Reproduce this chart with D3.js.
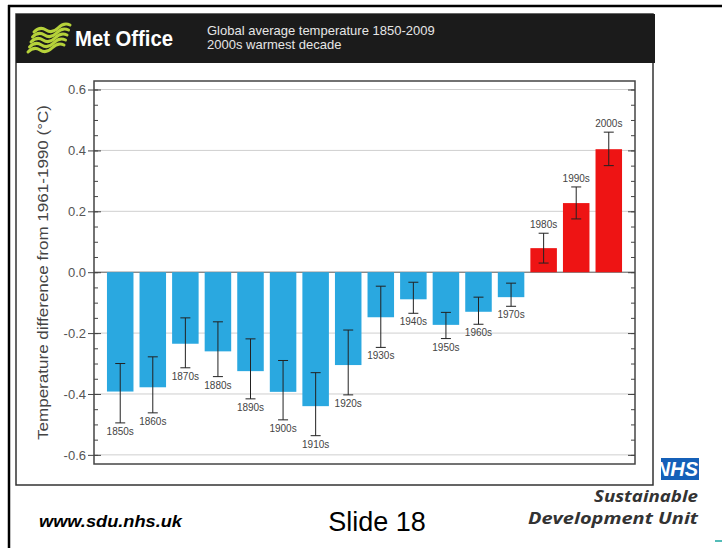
<!DOCTYPE html>
<html><head><meta charset="utf-8">
<script src="https://cdn.jsdelivr.net/npm/d3@7"></script>
<style>body{margin:0;background:#fff}svg{display:block}</style>
</head><body><svg id="c" width="722" height="548"></svg>
<script>
const decades = ["1850s","1860s","1870s","1880s","1890s","1900s","1910s","1920s","1930s","1940s","1950s","1960s","1970s","1980s","1990s","2000s"];
const anomalies = [-0.392,-0.378,-0.235,-0.260,-0.325,-0.393,-0.440,-0.305,-0.148,-0.089,-0.173,-0.130,-0.082,0.079,0.227,0.404];
const errUpper = [-0.300,-0.278,-0.150,-0.163,-0.219,-0.290,-0.330,-0.190,-0.046,-0.033,-0.132,-0.082,-0.036,0.128,0.280,0.460];
const errLower = [-0.495,-0.462,-0.314,-0.343,-0.416,-0.485,-0.537,-0.403,-0.247,-0.135,-0.218,-0.171,-0.112,0.030,0.175,0.350];
const yTicks = [-0.6,-0.4,-0.2,0.0,0.2,0.4,0.6];
const yTickLabels = ["-0.6","-0.4","-0.2","0.0","0.2","0.4","0.6"];
const yMinorTicks = [-0.6,-0.55,-0.5,-0.45,-0.4,-0.35,-0.3,-0.25,-0.2,-0.15,-0.1,-0.05,0,0.05,0.1,0.15,0.2,0.25,0.3,0.35,0.4,0.45,0.5,0.55,0.6];
const titleLines = ["Global average temperature 1850-2009","2000s warmest decade"];
const yAxisTitle = "Temperature difference from 1961-1990 (°C)";

const svg = d3.select("#c");
const P = {l:94, r:635, t:81, b:464};
const font = "Liberation Sans, Arial, sans-serif";

// slide frame
svg.append("line").attr("x1",8).attr("x2",722).attr("y1",6).attr("y2",6).attr("stroke","#000").attr("stroke-width",2.5);
svg.append("line").attr("x1",9).attr("x2",9).attr("y1",5).attr("y2",548).attr("stroke","#000").attr("stroke-width",2.5);

// chart panel
svg.append("rect").attr("x",16).attr("y",14).attr("width",637).attr("height",471)
  .attr("fill","#fff").attr("stroke","#333").attr("stroke-width",1.5);
svg.append("rect").attr("x",16).attr("y",14).attr("width",639).attr("height",49).attr("fill","#1b1b1b");

// Met Office logo
const logo = svg.append("g").attr("fill","none").attr("stroke","#b6d23a").attr("stroke-width",3).attr("stroke-linecap","round");
for (let i=0;i<5;i++){
  const x0 = 34 - i*1.5, y0 = 29 + i*5;
  logo.append("path").attr("d",`M${x0},${y0+3} q6,-6 12,-2 t12,-2 t12,-3`);
}
svg.append("text").attr("x",75).attr("y",46).attr("fill","#fff").attr("font-family",font)
  .attr("font-weight","bold").attr("font-size",22).attr("textLength",98).attr("lengthAdjust","spacingAndGlyphs").text("Met Office");
svg.selectAll("text.title").data(titleLines).join("text").attr("class","title")
  .attr("x",207).attr("y",(d,i)=>35+i*14).attr("fill","#e6e6e6")
  .attr("font-family",font).attr("font-size",13).text(d=>d);

// scales
const x = d3.scaleBand().domain(decades).range([P.l,P.r]).paddingInner(0.186).paddingOuter(0.398);
const y = d3.scaleLinear().domain([-0.63,0.628]).range([P.b,P.t]);

// gridlines
svg.append("g").selectAll("line").data(yTicks.filter(d=>d!==0)).join("line")
  .attr("x1",P.l).attr("x2",P.r).attr("y1",d=>y(d)).attr("y2",d=>y(d))
  .attr("stroke","#cfcfcf").attr("stroke-width",1);
svg.append("line").attr("x1",P.l).attr("x2",P.r).attr("y1",y(0)).attr("y2",y(0)).attr("stroke","#555").attr("stroke-width",1);

// bars
const idx = d3.range(decades.length);
svg.append("g").selectAll("rect").data(idx).join("rect")
  .attr("x",i=>x(decades[i])).attr("width",x.bandwidth())
  .attr("y",i=>y(Math.max(0,anomalies[i]))).attr("height",i=>Math.abs(y(anomalies[i])-y(0)))
  .attr("fill",i=>anomalies[i]<0?"#2aa8e0":"#ee1414");

// error bars
const eb = svg.append("g").attr("stroke","#222").attr("stroke-width",1);
idx.forEach(i=>{
  const cx = x(decades[i])+x.bandwidth()/2;
  eb.append("line").attr("x1",cx).attr("x2",cx).attr("y1",y(errUpper[i])).attr("y2",y(errLower[i]));
  [errUpper[i],errLower[i]].forEach(v=>{
    eb.append("line").attr("x1",cx-5).attr("x2",cx+5).attr("y1",y(v)).attr("y2",y(v));
  });
});

// decade labels
svg.append("g").selectAll("text").data(idx).join("text")
  .attr("x",i=>x(decades[i])+x.bandwidth()/2)
  .attr("y",i=>anomalies[i]<0? y(errLower[i])+12 : y(errUpper[i])-5)
  .attr("text-anchor","middle").attr("font-family",font)
  .attr("font-size",10).attr("fill","#444").text(i=>decades[i]);

// axes
const axL = svg.append("g").attr("transform",`translate(${P.l},0)`)
  .call(d3.axisLeft(y).tickValues(yTicks).tickFormat((d,i)=>yTickLabels[i]).tickSize(6).tickPadding(2));
axL.select(".domain").remove();
axL.selectAll("text").attr("font-family",font).attr("font-size",13).attr("fill","#555");
axL.selectAll("line").attr("stroke","#444");
const axLi = svg.append("g").attr("transform",`translate(${P.l},0)`)
  .call(d3.axisLeft(y).tickValues(yMinorTicks).tickFormat("").tickSize(-4));
axLi.select(".domain").remove(); axLi.selectAll("line").attr("stroke","#444");
const axLm = svg.append("g").attr("transform",`translate(${P.l},0)`)
  .call(d3.axisLeft(y).tickValues(yTicks).tickFormat("").tickSize(-7));
axLm.select(".domain").remove(); axLm.selectAll("line").attr("stroke","#444");
const axR = svg.append("g").attr("transform",`translate(${P.r},0)`)
  .call(d3.axisRight(y).tickValues(yMinorTicks).tickFormat("").tickSize(-4));
axR.select(".domain").remove(); axR.selectAll("line").attr("stroke","#444");
const axRm = svg.append("g").attr("transform",`translate(${P.r},0)`)
  .call(d3.axisRight(y).tickValues(yTicks).tickFormat("").tickSize(-7));
axRm.select(".domain").remove(); axRm.selectAll("line").attr("stroke","#444");

// plot frame
svg.append("rect").attr("x",P.l).attr("y",P.t).attr("width",P.r-P.l).attr("height",P.b-P.t)
  .attr("fill","none").attr("stroke","#444").attr("stroke-width",1.5);

// y title
svg.append("text").attr("transform",`translate(48,${(P.t+P.b)/2}) rotate(-90)`)
  .attr("text-anchor","middle").attr("font-family",font).attr("font-size",15)
  .attr("textLength",335).attr("lengthAdjust","spacingAndGlyphs").attr("fill","#444").text(yAxisTitle);

// footer
svg.append("text").attr("x",39).attr("y",527).attr("font-family",font).attr("font-weight","bold").attr("font-style","italic")
  .attr("font-size",17).attr("textLength",143).attr("lengthAdjust","spacingAndGlyphs").attr("fill","#000").text("www.sdu.nhs.uk");
svg.append("text").attr("x",377).attr("y",531).attr("text-anchor","middle").attr("font-family",font)
  .attr("font-size",27).attr("fill","#000").text("Slide 18");

// NHS logo
svg.append("defs").append("clipPath").attr("id","nhsclip").append("rect").attr("x",661).attr("y",458).attr("width",38).attr("height",22);
svg.append("rect").attr("x",661).attr("y",458).attr("width",38).attr("height",22).attr("fill","#1560b8");
svg.append("text").attr("clip-path","url(#nhsclip)").attr("x",698).attr("y",476).attr("text-anchor","end")
  .attr("font-family",font).attr("font-weight","bold").attr("font-style","italic").attr("font-size",20).attr("fill","#fff").text("NHS");
svg.append("text").attr("x",698).attr("y",502).attr("text-anchor","end").attr("font-family","Open Sans, sans-serif")
  .attr("font-weight","bold").attr("font-style","italic").attr("font-size",16).attr("textLength",104).attr("lengthAdjust","spacingAndGlyphs")
  .attr("fill","#333").text("Sustainable");
svg.append("text").attr("x",698).attr("y",524).attr("text-anchor","end").attr("font-family","Open Sans, sans-serif")
  .attr("font-weight","bold").attr("font-style","italic").attr("font-size",16).attr("textLength",170).attr("lengthAdjust","spacingAndGlyphs")
  .attr("fill","#333").text("Development Unit");
svg.append("line").attr("x1",715).attr("x2",722).attr("y1",541).attr("y2",541).attr("stroke","#1aa6a0").attr("stroke-width",1.5);
</script></body></html>
